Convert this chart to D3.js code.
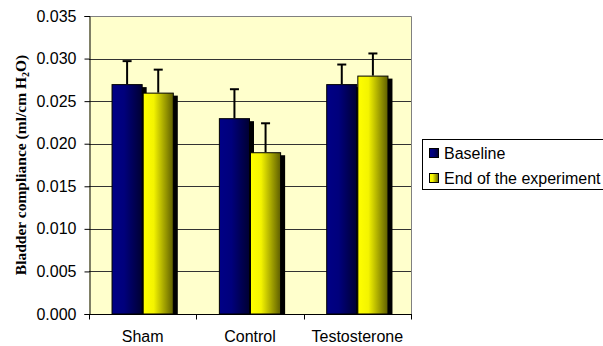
<!DOCTYPE html>
<html>
<head>
<meta charset="utf-8">
<script src="https://cdn.jsdelivr.net/npm/d3@7"></script>
<style>
  html, body { margin: 0; padding: 0; background: #fff; }
  svg { display: block; }
</style>
</head>
<body>
<svg id="chart" width="603" height="346"></svg>
<script>
const categories = ["Sham", "Control", "Testosterone"];
const seriesNames = ["Baseline", "End of the experiment"];
const baselineValues = [0.027, 0.023, 0.027];
const baselineErrors = [0.0027, 0.0034, 0.0023];
const endValues = [0.026, 0.019, 0.028];
const endErrors = [0.0027, 0.0034, 0.0026];
const yTicks = [0, 0.005, 0.010, 0.015, 0.020, 0.025, 0.030, 0.035];

const svg = d3.select("#chart");
const W = 603, H = 346;
const plot = { left: 89, right: 411, top: 16, bottom: 314 };

const defs = svg.append("defs");
function grad(id, stops) {
  const g = defs.append("linearGradient").attr("id", id)
    .attr("x1", "0%").attr("x2", "100%").attr("y1", "0%").attr("y2", "0%");
  stops.forEach(s => g.append("stop").attr("offset", s[0]).attr("stop-color", s[1]));
}
grad("gBase", [["0%", "#000086"], ["40%", "#00007c"], ["100%", "#000032"]]);
grad("gEnd", [["0%", "#ffff00"], ["35%", "#f4f400"], ["100%", "#5e5e00"]]);
const fills = ["url(#gBase)", "url(#gEnd)"];

const y = d3.scaleLinear().domain([0, 0.035]).range([plot.bottom, plot.top]);
const x0 = d3.scaleBand().domain(categories).range([plot.left, plot.right]).paddingInner(0).paddingOuter(0);
const x1 = d3.scaleBand().domain(seriesNames)
  .range([x0.bandwidth() * 0.21, x0.bandwidth() * 0.79]).padding(0);

// plot background
svg.append("rect").attr("x", plot.left).attr("y", plot.top)
  .attr("width", plot.right - plot.left).attr("height", plot.bottom - plot.top)
  .attr("fill", "#ffffcc");

// gridlines
svg.append("g").selectAll("line").data(yTicks.filter(t => t > 0 && t < 0.035)).join("line")
  .attr("x1", plot.left).attr("x2", plot.right)
  .attr("y1", d => Math.round(y(d)) + 0.5).attr("y2", d => Math.round(y(d)) + 0.5)
  .attr("stroke", "#333").attr("stroke-width", 1);

// top & right border
svg.append("path")
  .attr("d", `M${plot.left},${plot.top + 0.5}H${plot.right + 0.5}V${plot.bottom}`)
  .attr("fill", "none").attr("stroke", "#808080").attr("stroke-width", 1);

const data = categories.map((c, i) => ({
  cat: c,
  vals: [
    { s: seriesNames[0], v: baselineValues[i], e: baselineErrors[i], k: 0 },
    { s: seriesNames[1], v: endValues[i], e: endErrors[i], k: 1 }
  ]
}));

const groups = svg.append("g").selectAll("g").data(data).join("g")
  .attr("transform", d => `translate(${x0(d.cat)},0)`);

// shadows
groups.selectAll("rect.shadow").data(d => d.vals).join("rect").attr("class", "shadow")
  .attr("x", d => x1(d.s) + 4).attr("y", d => y(d.v) + 3)
  .attr("width", x1.bandwidth()).attr("height", d => plot.bottom - y(d.v) - 3)
  .attr("fill", "#000");

// bars
groups.selectAll("rect.bar").data(d => d.vals).join("rect").attr("class", "bar")
  .attr("x", d => x1(d.s) + 0.5).attr("y", d => y(d.v) + 0.5)
  .attr("width", x1.bandwidth() - 1).attr("height", d => plot.bottom - y(d.v) - 0.5)
  .attr("fill", d => fills[d.k]).attr("stroke", "#000").attr("stroke-width", 1);

// error bars
groups.selectAll("g.err").data(d => d.vals).join("g").attr("class", "err")
  .each(function (d) {
    const g = d3.select(this);
    const cx = x1(d.s) + x1.bandwidth() / 2;
    g.append("line").attr("x1", cx).attr("x2", cx)
      .attr("y1", y(d.v)).attr("y2", y(d.v + d.e))
      .attr("stroke", "#000").attr("stroke-width", 2);
    g.append("line").attr("x1", cx - 4.5).attr("x2", cx + 4.5)
      .attr("y1", y(d.v + d.e)).attr("y2", y(d.v + d.e))
      .attr("stroke", "#000").attr("stroke-width", 2);
  });

// y axis
const yAxis = d3.axisLeft(y).tickValues(yTicks).tickFormat(d3.format(".3f")).tickSize(5).tickPadding(8);
const gy = svg.append("g").attr("transform", `translate(${plot.left + 0.5},0)`).call(yAxis);
gy.select(".domain").attr("stroke", "#000");
gy.selectAll(".tick line").attr("stroke", "#000");
gy.selectAll(".tick text").attr("font-family", "Liberation Sans, Arial, sans-serif")
  .attr("font-size", "16px").attr("fill", "#000");

// x axis
const gx = svg.append("g").attr("transform", `translate(0,${plot.bottom + 0.5})`);
gx.append("line").attr("x1", plot.left).attr("x2", plot.right + 1).attr("stroke", "#000");
const bounds = [plot.left].concat(categories.map(c => x0(c) + x0.bandwidth()));
gx.selectAll("line.tk").data(bounds).join("line").attr("class", "tk")
  .attr("x1", d => Math.round(d) + 0.5).attr("x2", d => Math.round(d) + 0.5)
  .attr("y1", 0).attr("y2", 5).attr("stroke", "#000");
gx.selectAll("text").data(categories).join("text")
  .attr("x", d => x0(d) + x0.bandwidth() / 2).attr("y", 27)
  .attr("text-anchor", "middle")
  .attr("font-family", "Liberation Sans, Arial, sans-serif").attr("font-size", "16px")
  .text(d => d);

// y axis title
const yt = svg.append("text")
  .attr("transform", `translate(26,${(plot.top + plot.bottom) / 2}) rotate(-90)`)
  .attr("text-anchor", "middle")
  .attr("font-family", "Liberation Serif, Times New Roman, serif")
  .attr("font-weight", "bold").attr("font-size", "15.5px");
yt.append("tspan").text("Bladder compliance (ml/cm H");
yt.append("tspan").attr("font-size", "10px").attr("dy", 3).text("2");
yt.append("tspan").attr("dy", -3).text("O)");

// legend
const lg = svg.append("g");
lg.append("rect").attr("x", 422.5).attr("y", 139.5).attr("width", 190).attr("height", 50)
  .attr("fill", "#fff").attr("stroke", "#000").attr("stroke-width", 1);
const items = lg.selectAll("g.item").data(seriesNames).join("g").attr("class", "item")
  .attr("transform", (d, i) => `translate(0,${i * 25})`);
items.append("rect").attr("x", 429.5).attr("y", 148.5).attr("width", 9).attr("height", 9)
  .attr("fill", (d, i) => fills[i]).attr("stroke", "#000");
items.append("text").attr("x", 444).attr("y", 159)
  .attr("font-family", "Liberation Sans, Arial, sans-serif").attr("font-size", "16px")
  .text(d => d);
</script>
</body>
</html>
